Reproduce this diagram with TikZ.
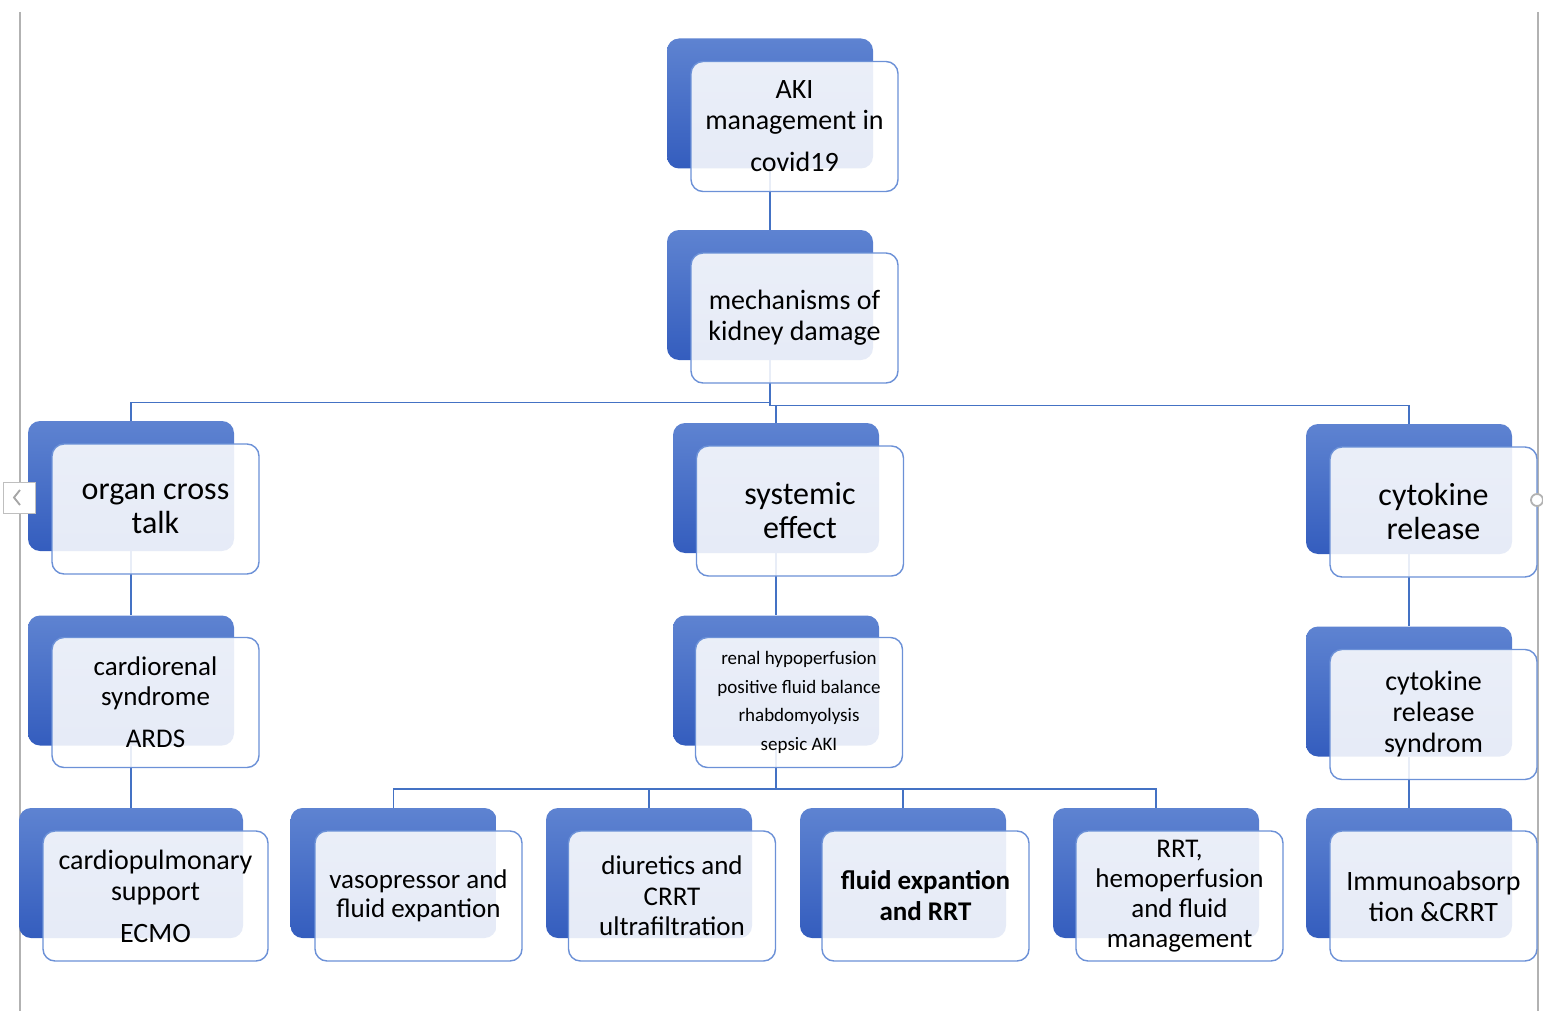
\documentclass[tikz,border=0pt]{standalone}
\usepackage{fontspec}
\setmainfont{Carlito}
\definecolor{linkblue}{RGB}{68,114,196}
\definecolor{shadetop}{RGB}{94,131,209}
\definecolor{shadebot}{RGB}{52,93,190}
\definecolor{frameblue}{RGB}{108,145,215}
\tikzset{
  backbox/.style={rounded corners=6pt, minimum width=103pt, minimum height=65pt, inner sep=0pt,
    top color=shadetop, bottom color=shadebot, draw=none},
  frontbox/.style={rounded corners=6pt, minimum width=103.5pt, minimum height=65pt, inner sep=2pt,
    draw=frameblue, line width=0.7pt, fill=white, fill opacity=0.88, text opacity=1,
    align=center, font=\fontsize{14}{15.5}\selectfont},
  bigtext/.style={font=\fontsize{16}{17}\selectfont},
  link/.style={draw=linkblue, line width=0.75pt},
}
\begin{document}
\begin{tikzpicture}[x=0.5pt,y=-0.5pt]
  \useasboundingbox (0,0) rectangle (1543,1011);

  % window frame
  \draw[gray!60, line width=0.6pt] (20,12) -- (20,1011);
  \draw[gray!60, line width=0.6pt] (1538,12) -- (1538,1011);

  % back boxes
  \foreach \n/\x/\y/\w in {root/770/103.5/103, mech/770/295/103,
      organ/131/486/103, sys/776/488/103, cyto/1409/489/103,
      cardio/131/680.5/103, renal/776/680.5/103, crs/1409/691.5/103,
      cpul/131/873/112, vaso/393.5/873/103, diur/649/873/103,
      fluid/903/873/103, rrt/1156/873/103, immu/1409/873/103}
    \node[backbox, minimum width=\w pt] (\n b) at (\x,\y) {};

  % connectors
  \draw[link] (rootb.south) -- (mechb.north);
  \draw[link] (mechb.south) -- ++(0,42) -| (organb.north);
  \foreach \k in {sys,cyto}
    \draw[link] (mechb.south) -- ++(0,45) -| (\k b.north);
  \draw[link] (organb.south) -- (cardiob.north);
  \draw[link] (sysb.south) -- (renalb.north);
  \draw[link] (cytob.south) -- (crsb.north);
  \draw[link] (cardiob.south) -- (cpulb.north);
  \draw[link] (crsb.south) -- (immub.north);
  \foreach \k in {vaso,diur,fluid,rrt}
    \draw[link] (renalb.south) -- ++(0,43) -| (\k b.north);

  % front boxes
  \node[frontbox] (root) at ([shift={(24.5,23)}]rootb.center) {AKI\\management in\\[5.5pt]covid19};
  \node[frontbox] (mech) at ([shift={(24.5,23)}]mechb.center) {mechanisms of\\kidney damage};
  \node[frontbox, bigtext] (organ) at ([shift={(24.5,23)}]organb.center) {organ cross\\talk};
  \node[frontbox, bigtext] (sys) at ([shift={(24,23)}]sysb.center) {systemic\\effect};
  \node[frontbox, bigtext] (cyto) at ([shift={(24.5,23)}]cytob.center) {cytokine\\release};
  \node[frontbox, font=\fontsize{13.5}{15}\selectfont] (cardio) at ([shift={(24.5,22)}]cardiob.center) {cardiorenal\\syndrome\\[6pt]ARDS};
  \node[frontbox, font=\fontsize{9.5}{14.4}\selectfont] (renal) at ([shift={(23,22)}]renalb.center) {renal hypoperfusion\\positive fluid balance\\rhabdomyolysis\\sepsic AKI};
  \node[frontbox] (crs) at ([shift={(24.5,23)}]crsb.center) {cytokine\\release\\syndrom};
  \node[frontbox, minimum width=112.5pt] (cpul) at ([shift={(24.5,23)}]cpulb.center) {cardiopulmonary\\support\\[5.5pt]ECMO};
  \node[frontbox, font=\fontsize{13.5}{14.5}\selectfont] (vaso) at ([shift={(25,23)}]vasob.center) {vasopressor and\\fluid expantion};
  \node[frontbox, font=\fontsize{13.5}{15.2}\selectfont] (diur) at ([shift={(23,23)}]diurb.center) {diuretics and\\CRRT\\ultrafiltration};
  \node[frontbox, font=\bfseries\fontsize{13.5}{15.5}\selectfont] (fluid) at ([shift={(22.5,23)}]fluidb.center) {fluid expantion\\and RRT};
  \node[frontbox, font=\fontsize{13.5}{15}\selectfont] (rrt) at ([shift={(23.5,23)}]rrtb.center) {RRT,\\hemoperfusion\\and fluid\\management};
  \node[frontbox] (immu) at ([shift={(24.5,23)}]immub.center) {Immunoabsorp\\tion \&CRRT};

  % scroll handles
  \draw[gray!50, fill=white, line width=0.5pt] (3,482) rectangle (35,513);
  \draw[gray!70, line width=0.9pt] (20,490) -- (14,497.5) -- (20,505);
  \draw[gray!60, fill=white, line width=0.9pt] (1537,500) circle (6);
\end{tikzpicture}
\end{document}
